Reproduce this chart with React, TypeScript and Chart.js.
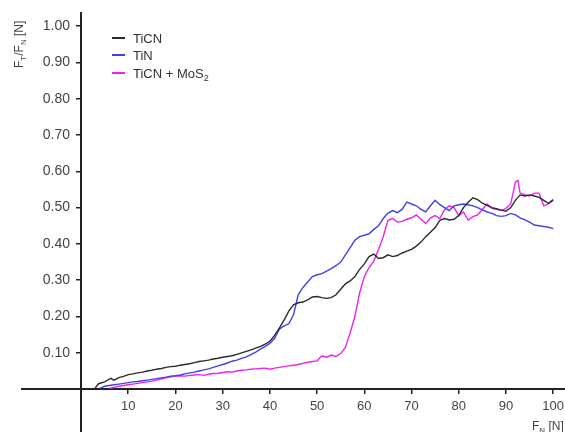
import React, { useEffect, useRef } from "react";
import { Chart, registerables } from "chart.js";

Chart.register(...registerables);

// Tick values
const xTicks = [10, 20, 30, 40, 50, 60, 70, 80, 90, 100];
const yTicks = [0.1, 0.2, 0.3, 0.4, 0.5, 0.6, 0.7, 0.8, 0.9, 1.0];

// Series labels
const seriesLabels = ["TiCN", "TiN", "TiCN + MoS\u2082"];

// TiCN (black)
const ticnF = [3, 3.7, 5, 6.3, 7, 8, 9, 10, 11, 12, 13, 14, 15, 16, 17, 18, 19, 20, 21, 22, 23, 24, 25, 26, 27, 28, 29, 30, 31, 32, 33, 34, 35, 36, 37, 38, 39, 40, 41, 42, 43, 44, 45, 46, 47, 48, 49, 50, 51, 52, 53, 54, 55, 56, 57, 58, 59, 60, 61, 62, 63, 64, 65, 66, 67, 68, 69, 70, 71, 72, 73, 74, 75, 76, 77, 78, 79, 80, 81, 82, 83, 84, 85, 86, 87, 88, 89, 90, 91, 92, 93, 94, 95, 96, 97, 98, 99, 100];
const ticnV = [0.003, 0.015, 0.02, 0.03, 0.025, 0.032, 0.035, 0.04, 0.042, 0.045, 0.047, 0.05, 0.052, 0.055, 0.057, 0.06, 0.062, 0.063, 0.066, 0.068, 0.07, 0.073, 0.076, 0.078, 0.08, 0.083, 0.085, 0.088, 0.09, 0.092, 0.096, 0.1, 0.104, 0.108, 0.113, 0.118, 0.124, 0.132, 0.148, 0.168, 0.19, 0.215, 0.232, 0.238, 0.24, 0.246, 0.254, 0.255, 0.252, 0.25, 0.252, 0.26, 0.275, 0.29, 0.298, 0.31, 0.33, 0.345, 0.365, 0.372, 0.36, 0.362, 0.37, 0.365, 0.368, 0.375, 0.38, 0.385, 0.394, 0.405, 0.42, 0.432, 0.445, 0.465, 0.47, 0.466, 0.468, 0.478, 0.5, 0.515, 0.527, 0.522, 0.512, 0.506, 0.5, 0.497, 0.493, 0.49, 0.5, 0.52, 0.535, 0.532, 0.535, 0.532, 0.528, 0.52, 0.512, 0.522];

// TiN (blue)
const tinF = [4, 5, 6, 7, 8, 9, 10, 11, 12, 13, 14, 15, 16, 17, 18, 19, 20, 21, 22, 23, 24, 25, 26, 27, 28, 29, 30, 31, 32, 33, 34, 35, 36, 37, 38, 39, 40, 41, 42, 43, 44, 45, 46, 47, 48, 49, 50, 51, 52, 53, 54, 55, 56, 57, 58, 59, 60, 61, 62, 63, 64, 65, 66, 67, 68, 69, 70, 71, 72, 73, 74, 75, 76, 77, 78, 79, 80, 81, 82, 83, 84, 85, 86, 87, 88, 89, 90, 91, 92, 93, 94, 95, 96, 97, 98, 99, 100];
const tinV = [0.002, 0.008, 0.01, 0.012, 0.014, 0.016, 0.018, 0.02, 0.021, 0.023, 0.025, 0.027, 0.029, 0.031, 0.033, 0.036, 0.037, 0.039, 0.042, 0.045, 0.047, 0.05, 0.053, 0.056, 0.06, 0.064, 0.068, 0.072, 0.077, 0.08, 0.085, 0.089, 0.095, 0.102, 0.11, 0.118, 0.126, 0.14, 0.165, 0.174, 0.18, 0.205, 0.26, 0.28, 0.295, 0.31, 0.315, 0.318, 0.325, 0.332, 0.34, 0.35, 0.37, 0.39, 0.41, 0.42, 0.424, 0.428, 0.44, 0.45, 0.47, 0.485, 0.492, 0.486, 0.495, 0.515, 0.51, 0.505, 0.495, 0.488, 0.505, 0.52, 0.508, 0.5, 0.492, 0.505, 0.508, 0.51, 0.508, 0.505, 0.5, 0.494, 0.488, 0.484, 0.478, 0.476, 0.478, 0.484, 0.48, 0.472, 0.466, 0.46, 0.452, 0.45, 0.448, 0.446, 0.442];

// TiCN + MoS2 (magenta)
const mosF = [6, 7, 8, 9, 10, 11, 12, 13, 14, 15, 16, 17, 18, 19, 20, 21, 22, 23, 24, 25, 26, 27, 28, 29, 30, 31, 32, 33, 34, 35, 36, 37, 38, 39, 40, 41, 42, 43, 44, 45, 46, 47, 48, 49, 50, 51, 52, 53, 54, 55, 56, 57, 58, 59, 60, 61, 62, 63, 64, 65, 66, 67, 68, 69, 70, 71, 72, 73, 74, 75, 76, 77, 78, 79, 80, 81, 82, 83, 84, 85, 86, 87, 88, 89, 90, 91, 92, 92.5, 93, 94, 95, 96, 97, 98, 99, 100];
const mosV = [0.002, 0.005, 0.008, 0.01, 0.012, 0.014, 0.016, 0.018, 0.02, 0.022, 0.025, 0.028, 0.031, 0.034, 0.036, 0.037, 0.036, 0.038, 0.039, 0.04, 0.038, 0.041, 0.043, 0.044, 0.046, 0.048, 0.047, 0.05, 0.052, 0.053, 0.055, 0.056, 0.057, 0.058, 0.055, 0.058, 0.06, 0.062, 0.064, 0.066, 0.068, 0.071, 0.074, 0.076, 0.078, 0.092, 0.088, 0.094, 0.09, 0.098, 0.115, 0.155, 0.2, 0.265, 0.31, 0.335, 0.352, 0.385, 0.42, 0.465, 0.47, 0.46, 0.462, 0.468, 0.472, 0.48, 0.468, 0.456, 0.472, 0.478, 0.47, 0.495, 0.505, 0.5, 0.478, 0.488, 0.465, 0.475, 0.48, 0.495, 0.51, 0.498, 0.495, 0.492, 0.498, 0.51, 0.57, 0.575, 0.54, 0.535, 0.532, 0.54, 0.54, 0.505, 0.51, 0.52];

const seriesColors = ["#2b2b2b", "#4040ee", "#ee22ee"];

const FONT = "'Liberation Sans', Arial, sans-serif";
const TEXT_COLOR = "#444";
const Y_LABEL_GAP = 11;

type Part = [string, boolean];

function drawRich(ctx: CanvasRenderingContext2D, parts: Part[], x: number, y: number, size: number) {
  let cx = x;
  for (const [t, sub] of parts) {
    const s = sub ? Math.round(size * 0.7) : size;
    ctx.font = `${s}px ${FONT}`;
    ctx.fillText(t, cx, sub ? y + size * 0.25 : y);
    cx += ctx.measureText(t).width;
  }
}

const shiftPlugin = {
  id: "shiftY",
  beforeDraw(chart: any) {
    const items = chart.scales.y.getLabelItems();
    items.forEach((it: any) => {
      if (!it._shifted) {
        it.options.translation[0] -= Y_LABEL_GAP;
        it._shifted = true;
      }
    });
  },
};

const annotPlugin = {
  id: "annot",
  afterDraw(chart: any) {
    const ctx: CanvasRenderingContext2D = chart.ctx;
    ctx.save();
    ctx.fillStyle = TEXT_COLOR;
    ctx.textBaseline = "alphabetic";
    ctx.textAlign = "left";
    // Y axis title (rotated)
    ctx.save();
    ctx.translate(23, 68);
    ctx.rotate(-Math.PI / 2);
    drawRich(ctx, [["F", false], ["T", true], ["/F", false], ["N", true], [" [N]", false]], 0, 0, 12);
    ctx.restore();
    // X axis title
    drawRich(ctx, [["F", false], ["N", true], [" [N]", false]], 532, 430, 12);
    // Legend
    const legendY = [38, 55, 73];
    chart.data.datasets.forEach((ds: any, i: number) => {
      ctx.strokeStyle = ds.borderColor;
      ctx.lineWidth = 2;
      ctx.beginPath();
      ctx.moveTo(112, legendY[i]);
      ctx.lineTo(125, legendY[i]);
      ctx.stroke();
      ctx.fillStyle = "#333";
      const parts: Part[] = i === 2 ? [["TiCN + MoS", false], ["2", true]] : [[ds.label, false]];
      drawRich(ctx, parts, 133, legendY[i] + 4.5, 13);
    });
    ctx.restore();
  },
};

export default function App() {
  const ref = useRef<HTMLCanvasElement | null>(null);
  useEffect(() => {
    if (!ref.current) return;
    const mk = (F: number[], V: number[]) => F.map((f, i) => ({ x: f, y: V[i] }));
    const zeroPad = (s: any) => {
      s.paddingTop = 0;
      s.paddingBottom = 0;
      s.paddingLeft = 0;
      s.paddingRight = 0;
    };
    const chart = new Chart(ref.current, {
      type: "scatter",
      data: {
        datasets: [
          { label: seriesLabels[0], data: mk(ticnF, ticnV) },
          { label: seriesLabels[1], data: mk(tinF, tinV) },
          { label: seriesLabels[2], data: mk(mosF, mosV) },
        ].map((d, i) => ({
          ...d,
          showLine: true,
          borderColor: seriesColors[i],
          backgroundColor: seriesColors[i],
          borderWidth: 1.4,
          pointRadius: 0,
          tension: 0,
        })),
      },
      options: {
        animation: false,
        responsive: false,
        layout: { padding: { left: 22, top: 13, right: 0, bottom: 0 } },
        plugins: { legend: { display: false }, tooltip: { enabled: false } },
        scales: {
          x: {
            type: "linear",
            min: -12.5,
            max: 102.5,
            position: { y: 0 } as any,
            afterBuildTicks: (s: any) => {
              s.ticks = xTicks.map((v) => ({ value: v }));
            },
            afterFit: zeroPad,
            ticks: {
              autoSkip: false,
              maxRotation: 0,
              padding: 5,
              color: TEXT_COLOR,
              font: { family: FONT, size: 13 },
              callback: (v: any) => String(v),
            },
            grid: { display: true, drawOnChartArea: false, drawTicks: true, tickLength: 4, color: "#222", lineWidth: 1.5 },
            border: { display: true, color: "#222", width: 2 },
          },
          y: {
            type: "linear",
            min: -0.118,
            max: 1.036,
            position: { x: 0 } as any,
            afterBuildTicks: (s: any) => {
              s.ticks = yTicks.map((v) => ({ value: v }));
            },
            afterFit: zeroPad,
            ticks: {
              autoSkip: false,
              padding: 8,
              color: TEXT_COLOR,
              font: { family: FONT, size: 14 },
              callback: (v: any) => Number(v).toFixed(2),
            },
            grid: { display: true, drawOnChartArea: false, drawTicks: true, tickLength: 4, color: "#222", lineWidth: 1.5 },
            border: { display: true, color: "#222", width: 2 },
          },
        },
      },
      plugins: [shiftPlugin, annotPlugin],
    });
    return () => chart.destroy();
  }, []);
  return (
    <div style={{ position: "fixed", left: 0, top: 0, width: 565, height: 432, background: "#fff" }}>
      <canvas ref={ref} width={565} height={432} />
    </div>
  );
}
